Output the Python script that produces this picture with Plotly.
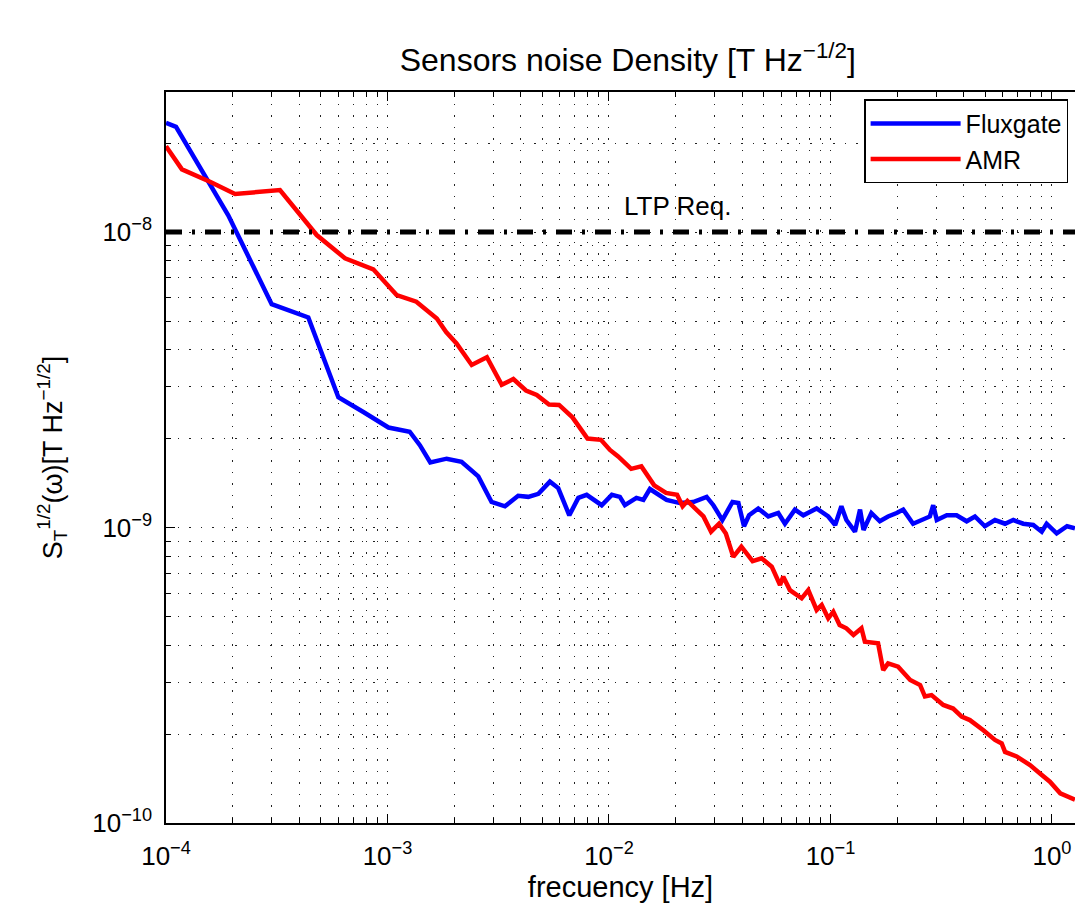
import math
import plotly.graph_objects as go

# ---------------- data ----------------
freq_fluxgate = [1.00e-4, 1.11e-4, 1.91e-4, 3.00e-4, 4.39e-4, 6.00e-4, 7.78e-4, 1.01e-3,
                 1.26e-3, 1.40e-3, 1.56e-3, 1.85e-3, 2.16e-3, 2.57e-3, 2.95e-3, 3.39e-3,
                 3.89e-3, 4.32e-3, 4.80e-3, 5.41e-3, 5.90e-3, 6.62e-3, 7.27e-3, 7.93e-3,
                 9.27e-3, 1.03e-2, 1.12e-2, 1.18e-2, 1.33e-2, 1.43e-2, 1.53e-2, 1.64e-2,
                 1.82e-2, 2.09e-2, 2.40e-2, 2.76e-2, 2.96e-2, 3.25e-2, 3.61e-2, 3.84e-2,
                 4.07e-2, 4.29e-2, 4.72e-2, 5.24e-2, 5.81e-2, 6.23e-2, 6.91e-2, 7.54e-2,
                 8.66e-2, 9.77e-2, 0.105, 0.112, 0.118, 0.129, 0.136, 0.141, 0.153, 0.167,
                 0.182, 0.199, 0.213, 0.236, 0.262, 0.281, 0.291, 0.302, 0.335, 0.371,
                 0.412, 0.449, 0.498, 0.553, 0.614, 0.669, 0.742, 0.823, 0.899, 0.946,
                 1.05, 1.17, 1.27]
noise_fluxgate = [2.34e-8, 2.27e-8, 1.14e-8, 5.70e-9, 5.14e-9, 2.76e-9, 2.46e-9, 2.18e-9,
                  2.11e-9, 1.90e-9, 1.66e-9, 1.71e-9, 1.67e-9, 1.49e-9, 1.22e-9, 1.18e-9,
                  1.28e-9, 1.27e-9, 1.30e-9, 1.43e-9, 1.36e-9, 1.10e-9, 1.26e-9, 1.29e-9,
                  1.19e-9, 1.29e-9, 1.27e-9, 1.19e-9, 1.26e-9, 1.24e-9, 1.35e-9, 1.31e-9,
                  1.24e-9, 1.21e-9, 1.22e-9, 1.27e-9, 1.19e-9, 1.06e-9, 1.22e-9, 1.21e-9,
                  1.01e-9, 1.10e-9, 1.16e-9, 1.09e-9, 1.12e-9, 1.03e-9, 1.15e-9, 1.10e-9,
                  1.16e-9, 1.09e-9, 1.02e-9, 1.18e-9, 1.06e-9, 9.68e-10, 1.15e-9, 9.81e-10,
                  1.12e-9, 1.05e-9, 1.09e-9, 1.12e-9, 1.15e-9, 1.03e-9, 1.07e-9, 1.09e-9,
                  1.19e-9, 1.06e-9, 1.10e-9, 1.10e-9, 1.05e-9, 1.09e-9, 1.01e-9, 1.06e-9,
                  1.03e-9, 1.06e-9, 1.03e-9, 1.02e-9, 9.68e-10, 1.03e-9, 9.56e-10, 1.01e-9,
                  9.94e-10]

freq_amr = [1.00e-4, 1.18e-4, 1.58e-4, 2.05e-4, 3.27e-4, 4.79e-4, 6.43e-4, 8.63e-4,
            1.10e-3, 1.35e-3, 1.67e-3, 1.84e-3, 2.05e-3, 2.40e-3, 2.81e-3, 3.28e-3,
            3.70e-3, 4.22e-3, 4.72e-3, 5.36e-3, 5.95e-3, 6.84e-3, 8.00e-3, 9.20e-3,
            1.01e-2, 1.10e-2, 1.26e-2, 1.40e-2, 1.60e-2, 1.81e-2, 2.03e-2, 2.15e-2,
            2.26e-2, 2.47e-2, 2.67e-2, 2.89e-2, 3.14e-2, 3.37e-2, 3.64e-2, 3.96e-2,
            4.45e-2, 4.89e-2, 5.43e-2, 5.92e-2, 6.12e-2, 6.56e-2, 7.41e-2, 7.94e-2,
            8.66e-2, 9.13e-2, 9.77e-2, 0.103, 0.110, 0.118, 0.127, 0.138, 0.143, 0.164,
            0.173, 0.182, 0.202, 0.229, 0.254, 0.267, 0.286, 0.323, 0.358, 0.391, 0.426,
            0.490, 0.553, 0.593, 0.614, 0.693, 0.796, 0.883, 0.979, 1.09, 1.27]
noise_amr = [1.95e-8, 1.63e-8, 1.48e-8, 1.345e-8, 1.387e-8, 9.77e-9, 8.15e-9, 7.48e-9,
             6.12e-9, 5.81e-9, 5.10e-9, 4.59e-9, 4.20e-9, 3.55e-9, 3.77e-9, 3.04e-9,
             3.18e-9, 2.91e-9, 2.81e-9, 2.61e-9, 2.60e-9, 2.36e-9, 2.00e-9, 1.98e-9,
             1.83e-9, 1.74e-9, 1.58e-9, 1.61e-9, 1.39e-9, 1.31e-9, 1.29e-9, 1.18e-9,
             1.23e-9, 1.16e-9, 1.09e-9, 9.68e-10, 1.03e-9, 9.54e-10, 7.96e-10, 8.61e-10,
             7.70e-10, 7.87e-10, 7.37e-10, 6.39e-10, 6.82e-10, 6.14e-10, 5.76e-10, 6.14e-10,
             5.26e-10, 5.47e-10, 4.93e-10, 5.19e-10, 4.68e-10, 4.56e-10, 4.33e-10, 4.56e-10,
             4.11e-10, 4.06e-10, 3.29e-10, 3.47e-10, 3.38e-10, 3.05e-10, 2.93e-10, 2.68e-10,
             2.71e-10, 2.51e-10, 2.44e-10, 2.29e-10, 2.23e-10, 2.06e-10, 1.91e-10, 1.86e-10,
             1.74e-10, 1.68e-10, 1.57e-10, 1.47e-10, 1.38e-10, 1.26e-10, 1.20e-10]

ltp_requirement = 1e-8
ltp_label = "LTP Req."
ltp_label_freq = 2.03e-2

series_names = ["Fluxgate", "AMR"]
series_colors = ["#0000FF", "#FF0000"]

x_tick_vals = [1e-4, 1e-3, 1e-2, 1e-1, 1e0]
x_tick_text = ["10<sup>−4</sup>", "10<sup>−3</sup>", "10<sup>−2</sup>",
               "10<sup>−1</sup>", "10<sup>0</sup>"]
y_tick_vals = [1e-10, 1e-9, 1e-8]
y_tick_text = ["10<sup>−10</sup>", "10<sup>−9</sup>", "10<sup>−8</sup>"]

x_range_log = [-4, 0.104]
y_range_log = [-10, -7.526]

title_text = "Sensors noise Density [T Hz<sup>−1/2</sup>]"
x_title = "frecuency [Hz]"
y_title = "S<sub>T</sub><sup>1/2</sup>(ω)[T Hz<sup>−1/2</sup>]"

# minor tick positions (2..9 per decade)
x_minor = [m * 10.0 ** e for e in range(-4, 1) for m in range(2, 10)]
y_minor = [m * 10.0 ** e for e in range(-10, -7) for m in range(2, 10)]

FONT = "Liberation Sans, Arial, Helvetica, sans-serif"
GRID = dict(color="#222222", dash="1.5px,10px")

fig = go.Figure()
for f, s, name, col in [(freq_fluxgate, noise_fluxgate, series_names[0], series_colors[0]),
                        (freq_amr, noise_amr, series_names[1], series_colors[1])]:
    fig.add_trace(go.Scatter(x=f, y=s, mode="lines", name=name,
                             line=dict(color=col, width=4.5)))

fig.add_hline(y=ltp_requirement, line=dict(color="black", width=5, dash="16px,10px,3px,10px"))
fig.add_annotation(x=math.log10(ltp_label_freq), y=math.log10(ltp_requirement),
                   xref="x", yref="y", text=ltp_label, showarrow=False,
                   yshift=26, font=dict(size=26, color="black", family=FONT))

axis_common = dict(
    type="log", showline=True, linecolor="black", linewidth=1.5,
    ticks="inside", ticklen=9, tickwidth=1.2, tickcolor="black",
    showgrid=True, gridcolor=GRID["color"], gridwidth=1, griddash=GRID["dash"],
    zeroline=False, tickfont=dict(size=26, color="black", family=FONT),
)

fig.update_xaxes(
    **axis_common, range=x_range_log, mirror="allticks",
    tickmode="array", tickvals=x_tick_vals, ticktext=x_tick_text,
    ticklabelstandoff=9,
    minor=dict(tickmode="array", tickvals=x_minor, ticks="inside", ticklen=5,
               tickcolor="black", showgrid=True, gridcolor=GRID["color"],
               gridwidth=1, griddash=GRID["dash"]),
    title=dict(text=x_title, font=dict(size=29, color="black", family=FONT), standoff=4),
)
fig.update_yaxes(
    **axis_common, range=y_range_log, mirror=False,
    tickmode="array", tickvals=y_tick_vals, ticktext=y_tick_text,
    ticklabelstandoff=7,
    minor=dict(tickmode="array", tickvals=y_minor, ticks="inside", ticklen=5,
               tickcolor="black", showgrid=True, gridcolor=GRID["color"],
               gridwidth=1, griddash=GRID["dash"]),
    title=dict(text=y_title, font=dict(size=27, color="black", family=FONT), standoff=22),
)

fig.update_layout(
    width=1075, height=910, autosize=False,
    margin=dict(l=166, r=0, t=92, b=87, autoexpand=False),
    paper_bgcolor="white", plot_bgcolor="white",
    font=dict(family=FONT, color="black"),
    title=dict(text=title_text, x=0.584, xref="container", xanchor="center",
               y=0.934, yref="container", yanchor="middle",
               font=dict(size=32, color="black", family=FONT)),
    legend=dict(x=0.768, y=0.99, xanchor="left", yanchor="top",
                bgcolor="white", bordercolor="black", borderwidth=1.5,
                font=dict(size=25, color="black", family=FONT),
                itemwidth=90, tracegroupgap=0),
    showlegend=True,
)

fig.write_html("out.html", config={"displayModeBar": False},
               post_script="document.body.style.margin='0px';")
